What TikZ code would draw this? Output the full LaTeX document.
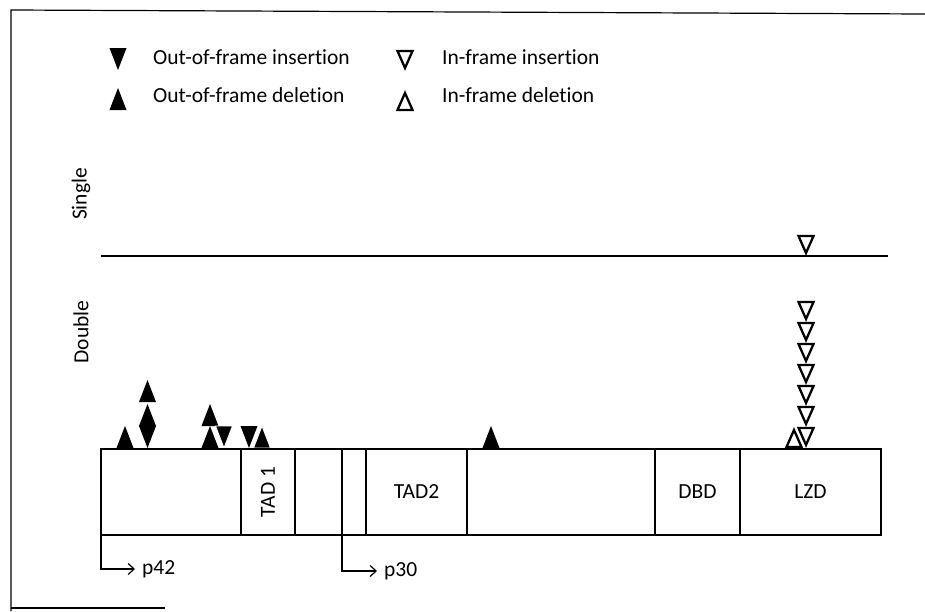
\documentclass[tikz,border=0pt]{standalone}
\usepackage{fontspec}
\usepackage{graphicx}
\setmainfont{Carlito}[Ligatures=NoCommon]
\usetikzlibrary{positioning, arrows.meta}
\tikzset{>={Straight Barb[length=6pt, width=11pt]}}

\begin{document}
\begin{tikzpicture}[
    x=1pt, y=-1pt,
    font=\fontsize{21.5}{25}\selectfont,
    segbox/.style={draw, line width=1.5pt, minimum height=86pt,
                   inner sep=0pt, outer sep=0pt},
    legtext/.style={anchor=base west, inner sep=0pt},
    rowtext/.style={rotate=90, inner sep=0pt},
    sitetext/.style={anchor=west, inner xsep=7pt, inner ysep=2pt},
    cut/.style={draw=white, line width=0.9pt},
    openmark/.style={draw=black, line width=2.3pt, line join=miter},
    upfill/.pic={\path[fill=black, pic actions] (-8.5,0) -- (0,-22) -- (8.5,0) -- cycle;},
    downfill/.pic={\path[fill=black, pic actions] (0,0) -- (-8.5,-22) -- (8.5,-22) -- cycle;},
    upopen/.pic={\draw[openmark] (-7.5,-1) -- (0,-18) -- (7.5,-1) -- cycle;},
    downopen/.pic={\draw[openmark] (0,-3) -- (-7.5,-20) -- (7.5,-20) -- cycle;},
  ]
  \useasboundingbox (0,0) rectangle (925,611);

  % frame of the scan
  \draw[line width=1.2pt] (925,14) -- (11,10) -- (11,611);
  \draw[line width=1.2pt] (11,608) -- (165,608);

  % legend
  \pic at (118,70) {downfill};
  \pic at (118,110) {upfill};
  \pic at (405,71) {downopen};
  \pic at (405,111) {upopen};
  \node[legtext] (oins) at (153,64) {Out-of-frame insertion};
  \node[legtext] (odel) at (153,102) {Out-of-frame deletion};
  \node[legtext] (iins) at (442,64) {In-frame insertion};
  \node[legtext] (idel) at (442,102) {In-frame deletion};

  % rows
  \node[rowtext] (single) at (81,194) {Single};
  \node[rowtext] (double) at (81,332) {Double};
  \coordinate (sl) at (101,256);
  \coordinate (sr) at (888,256);
  \draw[line width=1.2pt] (sl) -- (sr);
  \pic at (806,256) {downopen};

  % mutations, double
  \pic at (125,448) {upfill};
  \pic at (147.5,448) {downfill};
  \pic at (147.5,426) {upfill};
  \pic at (147.5,402) {upfill};
  \pic at (210,448) {upfill};
  \pic at (210,426) {upfill};
  \pic[cut] at (224,448) {downfill};
  \pic at (249,448) {downfill};
  \pic[cut] at (262,448) {upfill};
  \pic at (491,448) {upfill};
  \pic at (794,448) {upopen};
  \foreach \k in {0,...,6}
    \pic at (806,448-21*\k) {downopen};

  % protein
  \node[segbox, anchor=north west, minimum width=140pt] (nterm) at (101,449) {};
  \node[segbox, minimum width=54pt, right=0pt of nterm] (tad1) {\rotatebox{90}{TAD 1}};
  \node[segbox, minimum width=47pt, right=0pt of tad1] (mid1) {};
  \node[segbox, minimum width=24pt, right=0pt of mid1] (gap) {};
  \node[segbox, minimum width=101pt, right=0pt of gap] (tad2) {TAD2};
  \node[segbox, minimum width=188pt, right=0pt of tad2] (mid2) {};
  \node[segbox, minimum width=85pt, right=0pt of mid2] (dbd) {DBD};
  \node[segbox, minimum width=141pt, right=0pt of dbd] (lzd) {LZD};

  % start sites
  \node[sitetext] (p42) at (135,569) {p42};
  \node[sitetext] (p30) at (377,571) {p30};
  \draw[->, line width=1.2pt] (nterm.south west) |- (p42.west);
  \draw[->, line width=1.2pt] (gap.south west) |- (p30.west);
\end{tikzpicture}
\end{document}
